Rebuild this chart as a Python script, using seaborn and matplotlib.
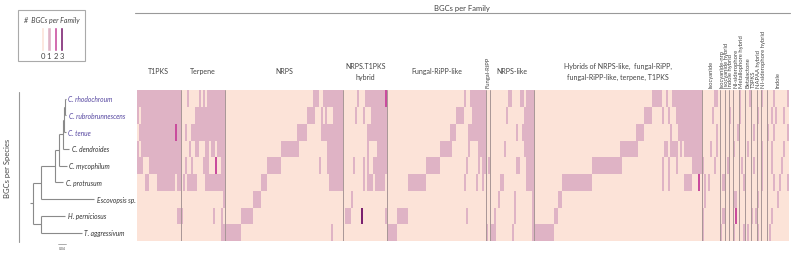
import matplotlib
matplotlib.use("Agg")
import matplotlib.pyplot as plt
import matplotlib.transforms as mtransforms
from matplotlib.colors import ListedColormap
from matplotlib.lines import Line2D
from matplotlib.patches import Rectangle
import numpy as np
import pandas as pd
import seaborn as sns

W, H = 797, 255

species = ["C. rhodochroum", "C. rubrobrunnescens", "C. tenue", "C. dendroides",
           "C. mycophilum", "C. protrusum", "Escovopsis sp.", "H. perniciosus",
           "T. aggressivum"]
highlighted = ["C. rhodochroum", "C. rubrobrunnescens", "C. tenue"]

count_levels = [0, 1, 2, 3]
count_colors = ["#fce3d8", "#dfb3c5", "#c94c9d", "#7a206f"]

# BGC counts per family column, one string per species (spaces only for reading)
t1pks = [
    "11111 11111 11111 11111 11",
    "10111 11111 11111 11111 11",
    "01111 11111 11111 11112 11",
    "10111 11111 11111 11111 11",
    "11100 01111 11111 11111 11",
    "00001 10000 11111 11110 11",
    "00000 00000 00000 00000 00",
    "00000 00000 00000 00000 11",
    "00000 00000 00000 00000 00",
]
terpene = [
    "00010 00001 01011 11111 11",
    "00000 00111 11111 11111 11",
    "00100 11111 11111 11111 11",
    "00001 00110 00110 11011 11",
    "00100 10000 01110 00200 11",
    "01011 11100 00111 11111 11",
    "00000 00000 00000 00000 01",
    "10000 00000 00000 01000 10",
    "00000 00000 00000 00000 11",
]
nrps = [
    "00000 00000 00000 00000 00000 00000 00000 00000 00001 11001 11111 1111",
    "00000 00000 00000 00000 00000 00000 00000 00000 01111 00010 10001 1111",
    "00000 00000 00000 00000 00000 00000 00000 01111 10000 00011 11111 1111",
    "00000 00000 00000 00000 00000 00011 11111 11000 00000 00000 01111 1111",
    "00000 00000 00000 00000 01111 11100 00000 00000 00000 00100 01111 1111",
    "00000 00000 00000 00011 10000 00000 00000 00000 00000 00000 00111 1111",
    "00000 00000 00001 11100 00000 00000 00000 00000 00000 00000 00000 0000",
    "00000 00011 11110 00000 00000 00000 00000 00000 00000 00000 00000 0000",
    "11111 11100 00000 00000 00000 00000 00000 00000 00000 00000 00010 0000",
]
nrps_t1pks = [
    "00000 00100 01111 11111 12",
    "00000 01000 10001 11111 11",
    "00000 00000 00111 11111 11",
    "00000 00000 00100 00111 11",
    "00000 10000 10100 11111 11",
    "00000 00000 10111 01111 10",
    "00001 00000 00000 00000 00",
    "01110 00003 00000 00000 01",
    "00000 00000 00000 00000 00",
]
fungal_ripp_like = [
    "00000 00000 00000 00000 00000 00000 00000 00010 01111 1111",
    "00000 00000 00000 00000 00000 00000 00001 11100 00111 1111",
    "00000 00000 00000 00000 00000 00000 01110 00000 11111 1111",
    "00000 00000 00000 00000 00000 01111 11000 00000 10000 1111",
    "00000 00000 00000 00001 11111 10000 00000 00001 00000 1011",
    "00000 00000 11111 11110 00000 00000 00000 00010 00001 0010",
    "00000 00000 00000 00000 00000 00000 00000 00000 00000 0000",
    "00000 11111 00000 00000 00000 00000 00000 00001 00000 0000",
    "11111 00000 00000 00000 00000 00000 00000 00000 00000 0000",
]
fungal_ripp = ["00", "00", "00", "00", "01", "00", "00", "00", "10"]
nrps_like = [
    "00000 00001 10000 11011 11",
    "00000 00010 00000 00111 11",
    "00000 00000 00010 01111 11",
    "00000 00100 00000 00111 11",
    "00000 00000 00011 00011 11",
    "00000 11000 00000 00011 11",
    "00001 00000 00100 00000 01",
    "00100 00000 00100 00000 01",
    "11100 00000 01000 00000 01",
]
hybrids = [
    "00000 00000 00000 00000 00000 00000 00000 00000 00000 00000 00000 00001 11110 01001 11111 11111 1111",
    "00000 00000 00000 00000 00000 00000 00000 00000 00000 00000 00000 11110 00001 00100 01111 11111 1111",
    "00000 00000 00000 00000 00000 00000 00000 00000 00000 00000 01111 00000 00000 00010 00111 11111 1111",
    "00000 00000 00000 00000 00000 00000 00000 00000 00011 11111 11000 00000 00000 11011 11010 11111 1111",
    "00000 00000 00000 00000 00000 00001 11111 11111 11110 00000 00000 00000 00001 00100 01000 00001 1111",
    "00000 00000 00001 11111 11111 11110 00000 00000 00000 00000 00000 00000 00001 00100 00000 11110 0020",
    "00000 00000 00110 00000 00000 00000 00000 00000 00000 00000 00000 00000 00000 00000 00000 00000 0000",
    "00000 00000 11000 00000 00000 00000 00000 00000 00000 00000 00000 00000 00000 00000 00000 00000 0000",
    "11111 11111 00000 00000 00000 00000 00000 00000 00000 00000 00000 00000 00000 00000 00000 00000 0000",
]
isocyanide = ["000000110", "000001000", "000000010", "000010010", "100000100",
              "010100000", "010000000", "100000000", "100000000"]
isocyanide_nrp = ["00", "00", "00", "00", "00", "01", "00", "01", "10"]
isocyanide_hybrid = ["00", "00", "00", "00", "01", "00", "00", "00", "00"]
indole_hybrid = ["00", "10", "00", "00", "00", "00", "00", "00", "00"]
ni_siderophore = ["000", "000", "001", "100", "000", "000", "110", "020", "100"]
metallophore_hybrid = ["100", "100", "000", "000", "010", "001", "000", "000", "001"]
betalactone = ["001", "000", "000", "010", "000", "000", "000", "000", "010"]
t3pks = ["000", "000", "010", "000", "010", "000", "000", "101", "000"]
napaa_hybrid = ["00", "10", "00", "00", "00", "00", "10", "00", "10"]
ni_siderophore_hybrid = ["100", "000", "000", "100", "100", "100", "000", "000", "000"]
indole = ["00010000001", "00101000100", "10010000001", "00100000100", "00100001000",
          "00010010001", "00000100000", "00100000000", "01000000000"]

families = [
    ("T1PKS", t1pks, "h"),
    ("Terpene", terpene, "h"),
    ("NRPS", nrps, "h"),
    ("NRPS.T1PKS\nhybrid", nrps_t1pks, "h"),
    ("Fungal-RiPP-like", fungal_ripp_like, "h"),
    ("Fungal-RiPP", fungal_ripp, "v"),
    ("NRPS-like", nrps_like, "h"),
    ("Hybrids of NRPS-like,  fungal-RiPP,\nfungal-RiPP-like, terpene, T1PKS", hybrids, "h"),
    ("Isocyanide", isocyanide, "v"),
    ("Isocyanide-nrp", isocyanide_nrp, "v"),
    ("Isocyanide hybrid", isocyanide_hybrid, "v"),
    ("Indole hybrid", indole_hybrid, "v"),
    ("NI-siderophore", ni_siderophore, "v"),
    ("Metallophore hybrid", metallophore_hybrid, "v"),
    ("Betalactone", betalactone, "v"),
    ("T3PKS", t3pks, "v"),
    ("NAPAA hybrid", napaa_hybrid, "v"),
    ("NI-siderophore hybrid", ni_siderophore_hybrid, "v"),
    ("Indole", indole, "v"),
]

# phylogeny: (name, branch length, children)
tree = ("root", 0.0, [
    ("A", 0.041, [
        ("Clono", 0.0715, [
            ("C. protrusum", 0.0415, []),
            ("N5", 0.0215, [
                ("C. mycophilum", 0.037, []),
                ("N4", 0.017, [
                    ("C. dendroides", 0.033, []),
                    ("N3", 0.0065, [
                        ("C. tenue", 0.0085, []),
                        ("N2", 0.005, [
                            ("C. rhodochroum", 0.0035, []),
                            ("C. rubrobrunnescens", 0.0065, []),
                        ]),
                    ]),
                ]),
            ]),
        ]),
        ("Escovopsis sp.", 0.268, []),
    ]),
    ("B", 0.041, [
        ("H. perniciosus", 0.123, []),
        ("T. aggressivum", 0.205, []),
    ]),
])
scale_bar = 0.04


def parse(rows):
    rows = [r.replace(" ", "") for r in rows]
    n = max(len(r) for r in rows)
    return np.array([[int(ch) for ch in r.ljust(n, "0")] for r in rows])


blocks, bounds, centers = [], [0], []
for name, rows, orient in families:
    m = parse(rows)
    blocks.append(m)
    centers.append(bounds[-1] + m.shape[1] / 2)
    bounds.append(bounds[-1] + m.shape[1])
mat = np.hstack(blocks)
df = pd.DataFrame(mat, index=species, columns=[f"c{i}" for i in range(mat.shape[1])])

sns.set_style("white")
plt.rcParams["font.family"] = ["Lato", "DejaVu Sans"]

fig = plt.figure(figsize=(W / 100, H / 100), dpi=100)


def fx(x):
    return x / W


def fy(y):
    return 1 - y / H


hm_l, hm_r, hm_t, hm_b = 136.7, 788.7, 91.3, 242.0
ax = fig.add_axes([fx(hm_l), fy(hm_b), (hm_r - hm_l) / W, (hm_b - hm_t) / H])
sns.heatmap(df, ax=ax, cmap=ListedColormap(count_colors), vmin=-0.5, vmax=3.5,
            cbar=False, xticklabels=False, yticklabels=False)
ax.set_xlabel("")
ax.set_ylabel("")
for b in bounds[1:-1]:
    ax.axvline(b, color="#a89696", lw=0.7)

trans = mtransforms.blended_transform_factory(ax.transData, ax.transAxes)
for (name, rows, orient), c in zip(families, centers):
    if orient == "v":
        ax.text(c, 1.02, name, transform=trans, rotation=90, ha="center", va="bottom",
                fontsize=4.2, color="#444444", linespacing=1.0)
    else:
        ax.text(c, 1.13, name, transform=trans, ha="center", va="center",
                fontsize=5, color="#444444", linespacing=1.6)

# header
fig.text(fx(462), fy(8), "BGCs per Family", ha="center", va="center", fontsize=5.5, color="#444444")
fig.add_artist(Line2D([fx(135), fx(790)], [fy(14), fy(14)], color="#999999", lw=0.8))

# tree
axt = fig.add_axes([0, fy(hm_b), fx(hm_l), (hm_b - hm_t) / H])
px_per_unit = 200
root_px = 32.5
axt.set_xlim(-root_px / px_per_unit, (hm_l - root_px) / px_per_unit)
axt.set_ylim(len(species), 0)
axt.axis("off")
ypos = {s: i + 0.5 for i, s in enumerate(species)}
tree_kw = dict(color="#8a8a8a", lw=0.8, solid_capstyle="butt")


def draw(node, x0):
    name, bl, kids = node
    x1 = x0 + bl
    if not kids:
        y = ypos[name]
        axt.plot([x0, x1], [y, y], **tree_kw)
        axt.text(x1 + 0.012, y, name, ha="left", va="center", fontsize=4.8, style="italic",
                 color="#5546a0" if name in highlighted else "#333333")
        return y
    ys = [draw(k, x1) for k in kids]
    y = (min(ys) + max(ys)) / 2
    axt.plot([x1, x1], [min(ys), max(ys)], **tree_kw)
    if bl > 0:
        axt.plot([x0, x1], [y, y], **tree_kw)
    return y


root_y = draw(tree, 0.0)
axt.plot([-0.015, 0], [root_y, root_y], **tree_kw)

# scale bar
sb_x0 = 58
fig.add_artist(Line2D([fx(sb_x0), fx(sb_x0 + scale_bar * px_per_unit)], [fy(245), fy(245)],
                      color="#8a8a8a", lw=0.5))
fig.text(fx(sb_x0 + scale_bar * px_per_unit / 2), fy(249), f"{scale_bar:.2f}", ha="center",
         va="center", fontsize=2.5, color="#555555")

# species axis label
fig.add_artist(Line2D([fx(19), fx(19)], [fy(93), fy(243)], color="#999999", lw=0.8))
fig.text(fx(8), fy(168), "BGCs per Species", rotation=90, ha="center", va="center",
         fontsize=5.5, color="#444444")

# legend
fig.add_artist(Rectangle((fx(18), fy(62)), (85 - 18) / W, (62 - 11) / H, zorder=0,
                         transform=fig.transFigure, facecolor="white", edgecolor="#aaaaaa", lw=0.8))
fig.text(fx(51.5), fy(21), "#  BGCs per Family", ha="center", va="center", fontsize=5,
         style="italic", color="#444444")
axl = fig.add_axes([fx(39.5), fy(52), 25.4 / W, 24 / H])
axl.set_zorder(3)
axl.bar(count_levels, [1] * len(count_levels), color=count_colors, width=0.5)
axl.set_xlim(-0.5, 3.5)
axl.set_ylim(0, 1)
axl.set_xticks(count_levels)
axl.set_xticklabels([str(v) for v in count_levels], fontsize=5.5, color="#444444")
axl.tick_params(axis="x", length=0, pad=1)
axl.set_yticks([])
for s in axl.spines.values():
    s.set_visible(False)
axl.patch.set_alpha(0)

fig.savefig("out.png", dpi=100)
